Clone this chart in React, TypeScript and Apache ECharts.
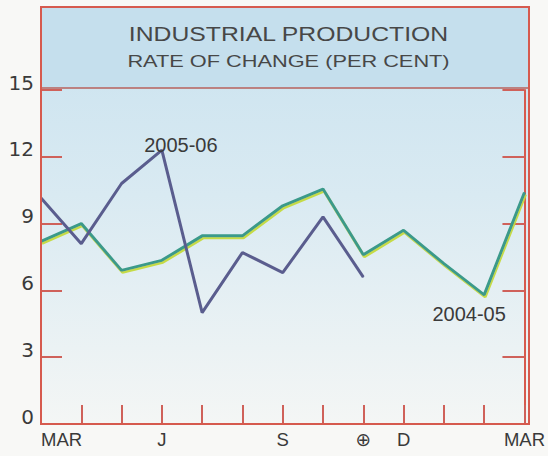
import React, { useEffect, useRef } from 'react';
import * as echarts from 'echarts';

// ---- data ----
const months = ['MAR', 'APR', 'MAY', 'JUN', 'JUL', 'AUG', 'SEP', 'OCT', 'NOV', 'DEC', 'JAN', 'FEB', 'MAR'];
const monthTickLabels = ['MAR', '', '', 'J', '', '', 'S', '', '⊕', 'D', '', '', 'MAR'];
const yMin = 0;
const yMax = 15;
const yStep = 3;
const seriesNames = ['2005-06', '2004-05'];
const values0506 = [10.15, 8.1, 10.8, 12.3, 5.0, 7.7, 6.8, 9.3, 6.6];
const values0405 = [8.2, 9.0, 6.9, 7.35, 8.45, 8.45, 9.8, 10.55, 7.6, 8.7, 7.2, 5.8, 10.4];
const titleLines = ['INDUSTRIAL PRODUCTION', 'RATE OF CHANGE (PER CENT)'];

const RED = '#d65a4e';
const TICK_RED = '#cf615a';
const SANS = '"Liberation Sans", Arial, "DejaVu Sans", sans-serif';

export default function App() {
  const ref = useRef<HTMLDivElement>(null);

  useEffect(() => {
    if (!ref.current) return;
    const chart = echarts.init(ref.current, null, { renderer: 'svg' });

    const gL = 41, gR = 529, gT = 90, gB = 424, frameTop = 7;

    const option: any = {
      animation: false,
      backgroundColor: '#f8f8f6',
      grid: { left: gL, right: 548 - gR, top: gT, bottom: 456 - gB, containLabel: false },
      graphic: [
        {
          type: 'rect', z: -10, silent: true,
          shape: { x: gL, y: frameTop, width: gR - gL, height: gB - frameTop },
          style: {
            fill: new echarts.graphic.LinearGradient(0, 0, 0, 1, [
              { offset: 0, color: '#c9e2ef' },
              { offset: 0.45, color: '#d9eaf2' },
              { offset: 1, color: '#f4f6f5' },
            ]),
          },
        },
        {
          type: 'rect', z: -9, silent: true,
          shape: { x: gL, y: frameTop, width: gR - gL, height: gT - frameTop - 2 },
          style: { fill: '#c5dfed' },
        },
        {
          type: 'line', z: 5, silent: true,
          shape: { x1: gL, y1: gT - 2, x2: gR, y2: gT - 2 },
          style: { stroke: '#b7625c', lineWidth: 1.5 },
        },
        {
          type: 'rect', z: 10, silent: true,
          shape: { x: gL, y: frameTop, width: gR - gL, height: gB - frameTop },
          style: { fill: 'none', stroke: RED, lineWidth: 2 },
        },
        {
          type: 'text', z: 11, x: 288.5, y: 34, scaleX: 1.27, scaleY: 1,
          style: {
            text: titleLines[0], fill: '#474747', font: `19.5px ${SANS}`,
            textAlign: 'center', textVerticalAlign: 'middle',
          },
        },
        {
          type: 'text', z: 11, x: 288.5, y: 61, scaleX: 1.28, scaleY: 1,
          style: {
            text: titleLines[1], fill: '#474747', font: `17px ${SANS}`,
            textAlign: 'center', textVerticalAlign: 'middle',
          },
        },
      ],
      xAxis: {
        type: 'category',
        boundaryGap: false,
        data: months.map((m, i) => (i === 0 ? { value: m, textStyle: { align: 'left' } } : m)),
        axisLine: { show: true, lineStyle: { color: RED, width: 2 } },
        axisTick: { show: true, inside: true, length: 19, interval: 0, lineStyle: { color: TICK_RED, width: 2 } },
        axisLabel: {
          interval: 0,
          formatter: (_v: string, i: number) => monthTickLabels[i],
          color: '#3a3a3a',
          fontSize: 18.5,
          fontFamily: SANS,
          margin: 6,
        },
        splitLine: { show: false },
      },
      yAxis: [
        {
          type: 'value', position: 'left', min: yMin, max: yMax, interval: yStep,
          axisLine: { show: true, lineStyle: { color: RED, width: 2 } },
          axisTick: { show: true, inside: true, length: 21, lineStyle: { color: TICK_RED, width: 2 } },
          axisLabel: {
            color: '#3a3a3a', fontSize: 20, fontFamily: '"DejaVu Sans", sans-serif',
            margin: 7, verticalAlign: 'bottom', lineHeight: 15,
          },
          splitLine: { show: false },
        },
        {
          type: 'value', position: 'right', min: yMin, max: yMax, interval: yStep,
          axisLine: { show: true, lineStyle: { color: RED, width: 2 } },
          axisTick: { show: true, inside: true, length: 22, lineStyle: { color: TICK_RED, width: 2 } },
          axisLabel: { show: false },
          splitLine: { show: false },
        },
      ],
      series: [
        {
          name: seriesNames[1],
          type: 'line',
          yAxisIndex: 0,
          z: 3,
          symbol: 'circle',
          symbolSize: 1,
          itemStyle: { color: '#3b9a8a' },
          lineStyle: {
            color: '#3b9a8a', width: 3,
            shadowColor: 'rgba(196,218,60,0.95)', shadowBlur: 0, shadowOffsetX: 1, shadowOffsetY: 2,
          },
          data: values0405.map((v, i) =>
            i === 11
              ? {
                  value: v,
                  label: {
                    show: true, formatter: seriesNames[1], position: 'bottom', offset: [-15, 4],
                    color: '#3a3a3a', fontSize: 20, fontFamily: SANS,
                  },
                }
              : v
          ),
        },
        {
          name: seriesNames[0],
          type: 'line',
          yAxisIndex: 0,
          z: 4,
          symbol: 'circle',
          symbolSize: 1,
          itemStyle: { color: '#5a5d8e' },
          lineStyle: { color: '#5a5d8e', width: 3 },
          data: values0506.map((v, i) =>
            i === 3
              ? {
                  value: v,
                  label: {
                    show: true, formatter: seriesNames[0], position: 'top', offset: [19, 10],
                    color: '#3a3a3a', fontSize: 20, fontFamily: SANS,
                  },
                }
              : v
          ),
        },
      ],
    };

    chart.setOption(option);
    return () => chart.dispose();
  }, []);

  return (
    <div
      ref={ref}
      style={{ position: 'absolute', left: 0, top: 0, width: 548, height: 456 }}
    />
  );
}
